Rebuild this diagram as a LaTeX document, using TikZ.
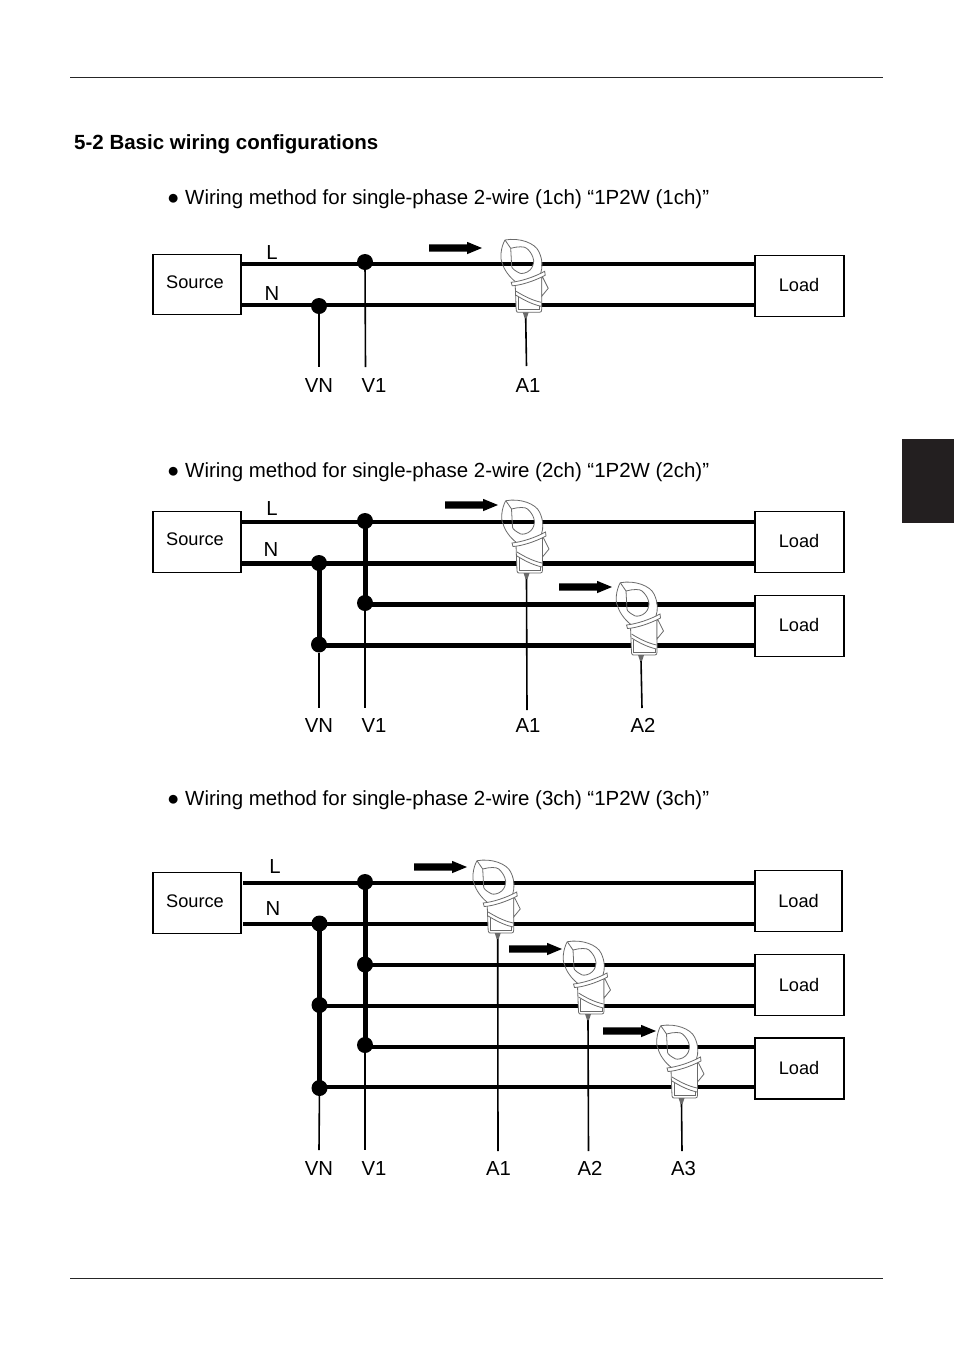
\documentclass[tikz,border=0pt]{standalone}
\usepackage{fontspec}
\setmainfont{Liberation Sans}
\definecolor{tabk}{HTML}{231F20}
\definecolor{clampc}{HTML}{6A6A6A}
\tikzset{
  wire/.style={line width=4.1pt,black},
  bus/.style={line width=5pt,black},
  thin wire/.style={line width=1.6pt,black},
  box/.style={draw=black,line width=1.4pt,fill=white,inner sep=0pt},
  dot/.style={circle,fill=black,inner sep=0pt,minimum size=16pt},
  lbl/.style={font=\fontsize{20.3}{24}\selectfont,inner sep=0pt,text=black},
  boxlbl/.style={font=\fontsize{18.2}{22}\selectfont,inner sep=0pt,text=black},
  para/.style={font=\fontsize{20.45}{24}\selectfont,inner sep=0pt,anchor=base west},
  clamp line/.style={draw=clampc,line width=0.8pt},
  rule/.style={line width=0.8pt,draw=black!85},
  flowarrow/.pic={\fill[black] (0,-3.6) -- (38,-3.6) -- (38,-6.2) -- (53,0) -- (38,6.2) -- (38,3.6) -- (0,3.6) -- cycle;},
  clampicon/.pic={
    % right half of the jaw hides the wire; the left half shows it
    \begin{scope}
      \clip (2,-82) rectangle (24,-30);
      \fill[white,even odd rule] (-20.7,-77.3) .. controls (-5.7,-80) and (9.3,-74) .. (13,-66) .. controls (17,-58) and (16,-50) .. (15,-44) -- (-10.7,-35.7) -- (-24,-50) -- cycle
        (-15,-69) .. controls (-8,-71) and (-1,-71) .. (1,-69) .. controls (7,-64) and (9,-56) .. (7.7,-54) .. controls (7,-50) and (5,-48) .. (4.3,-47.3) .. controls (1,-44) and (-4,-43.5) .. (-5.7,-44) .. controls (-10,-46) and (-14,-49) .. (-14,-50.7) -- cycle;
    \end{scope}
    \path[clamp line] (-20.7,-77.3) .. controls (-25,-70) and (-26,-58) .. (-23.3,-54) .. controls (-22,-48) and (-16,-40) .. (-10.7,-36);
    \path[clamp line] (-20.7,-77.3) .. controls (-5.7,-80) and (9.3,-74) .. (13,-66) .. controls (17,-58) and (17,-50) .. (15,-44);
    \path[clamp line] (-15,-69) .. controls (-8,-71) and (-1,-71) .. (1,-69) .. controls (7,-64) and (9,-56) .. (7.7,-54) .. controls (7,-50) and (5,-48) .. (4.3,-47.3) .. controls (1,-44) and (-4,-43.5) .. (-5.7,-44) .. controls (-10,-46) and (-14,-49) .. (-14,-50.7) -- cycle;
    \path[clamp line] (-20.7,-77.3) -- (-15,-69);
    % body
    \path[clamp line,fill=white] (-10.5,-33) -- (-9.5,-7) .. controls (-9.5,-5) and (-8,-5) .. (-7,-5) -- (14,-5) .. controls (15.5,-5) and (16,-6) .. (16,-8) -- (16,-41) -- cycle;
    % side bump
    \path[clamp line,fill=white] (16,-42) -- (22.5,-29) -- (16,-21) -- cycle;
    % collar
    \path[clamp line,fill=white] (-14.5,-35) .. controls (-5,-36) and (8,-40) .. (19,-46) -- (19.5,-42) .. controls (8,-36) and (-5,-32) .. (-13.5,-31.5) -- cycle;
    % stripes and window
    \path[clamp line] (-9.5,-26) .. controls (-3,-22) and (6,-17) .. (15.5,-15);
    \path[clamp line] (-9.5,-22) .. controls (-3,-18) and (6,-13) .. (15.5,-11);
    \path[clamp line] (-7.5,-20) -- (-7.5,-8) -- (14,-8) -- (14,-11);
    \fill[clampc] (-3,-5) -- (3,-5) -- (1,1) -- (-1,1) -- cycle;
  }
}
\begin{document}
\begin{tikzpicture}[x=1pt,y=-1pt]
\fill[white] (0,0) rectangle (954,1355);
\useasboundingbox (0,0) rectangle (954,1355);
% page furniture
\coordinate (ruleTl) at (70,77.6); \coordinate (ruleTr) at (883,77.6);
\coordinate (ruleBl) at (70,1278); \coordinate (ruleBr) at (883,1278);
\draw[rule] (ruleTl) -- (ruleTr);
\draw[rule] (ruleBl) -- (ruleBr);
\fill[tabk] (902,439) rectangle (954,523);
\node[para,font=\fontsize{20.5}{24}\selectfont\bfseries] (title) at (74,149) {5-2 Basic wiring configurations};
\node[para] (p1) at (167,204) {● Wiring method for single-phase 2-wire (1ch) “1P2W (1ch)”};
\node[para] (p2) at (167,477) {● Wiring method for single-phase 2-wire (2ch) “1P2W (2ch)”};
\node[para] (p3) at (167,805) {● Wiring method for single-phase 2-wire (3ch) “1P2W (3ch)”};

% ---------- section 1 ----------
\node[box,minimum width=88pt,minimum height=60pt] (S1) at (197,284.5) {};
\node[box,minimum width=89pt,minimum height=61pt] (Z1) at (799.5,286) {};
\node[boxlbl] at (195,282) {Source};
\node[boxlbl] at (799,285) {Load};
\coordinate (a1l) at (241,264); \coordinate (a1r) at (755,264);
\coordinate (a1n) at (241,305); \coordinate (a1m) at (755,305);
\draw[wire] (a1l) -- (a1r);
\draw[wire] (a1n) -- (a1m);
\node[dot] (d1v) at (365,262) {};
\node[dot] (d1n) at (319,306) {};
\node[lbl] (t1vn) at (319,385.5) {VN};
\node[lbl] (t1v1) at (374,385.5) {V1};
\node[lbl] (t1a1) at (528,385.5) {A1};
\coordinate (e1v) at (365.5,367); \coordinate (e1n) at (319,367);
\draw[thin wire] (d1v) -- (e1v);
\draw[thin wire] (d1n) -- (e1n);
\node[lbl] at (272,252.5) {L};
\node[lbl] at (272,293.5) {N};
\pic at (429,248) {flowarrow};
\coordinate (c1) at (525.7,317.3); \coordinate (e1a) at (526.5,366);
\draw[thin wire] (c1) -- (e1a);
\pic at (c1) {clampicon};

% ---------- section 2 ----------
\node[box,minimum width=88pt,minimum height=61pt] (S2) at (197,542) {};
\node[box,minimum width=89pt,minimum height=61pt] (Z2a) at (799.5,542) {};
\node[box,minimum width=89pt,minimum height=61pt] (Z2b) at (799.5,626) {};
\node[boxlbl] at (195,539) {Source};
\node[boxlbl] at (799,541) {Load};
\node[boxlbl] at (799,625) {Load};
\coordinate (b1) at (241,522); \coordinate (b1r) at (755,522);
\coordinate (b2) at (241,563.5); \coordinate (b2r) at (755,563.5);
\node[dot] (d2a) at (365,521) {};
\node[dot] (d2b) at (319,563) {};
\node[dot] (d2c) at (365,603) {};
\node[dot] (d2d) at (319,644.5) {};
\coordinate (b3r) at (755,604.5); \coordinate (b4r) at (755,645.5);
\draw[wire] (b1) -- (b1r);
\draw[wire] (b2) -- (b2r);
\draw[wire] (d2c.center |- b3r) -- (b3r);
\draw[wire] (d2d.center |- b4r) -- (b4r);
\draw[bus] (d2a.center) -- (d2c.center);
\draw[bus] (d2b.center) -- (d2d.center);
\coordinate (e2v) at (365,708); \coordinate (e2n) at (319,708);
\draw[thin wire] (d2c) -- (e2v);
\draw[thin wire] (d2d) -- (e2n);
\node[lbl] at (272,508.5) {L};
\node[lbl] at (271,549.5) {N};
\node[lbl] at (319,725.5) {VN};
\node[lbl] at (374,725.5) {V1};
\node[lbl] at (528,725.5) {A1};
\node[lbl] at (643,725.5) {A2};
\pic at (445,505) {flowarrow};
\pic at (559,587) {flowarrow};
\coordinate (c2a) at (526.5,578); \coordinate (e2a) at (527,710);
\coordinate (c2b) at (641,660); \coordinate (e2b) at (642,708);
\draw[thin wire] (c2a) -- (e2a);
\draw[thin wire] (c2b) -- (e2b);
\pic at (c2a) {clampicon};
\pic at (c2b) {clampicon};

% ---------- section 3 ----------
\node[box,minimum width=88pt,minimum height=61pt] (S3) at (197,903) {};
\node[box,minimum width=87pt,minimum height=61pt] (Z3a) at (798.5,901) {};
\node[box,minimum width=89pt,minimum height=61pt] (Z3b) at (799.5,985) {};
\node[box,minimum width=89pt,minimum height=61pt] (Z3c) at (799.5,1068.5) {};
\node[boxlbl] at (195,901) {Source};
\node[boxlbl] at (798.5,901) {Load};
\node[boxlbl] at (799,985) {Load};
\node[boxlbl] at (799,1068) {Load};
\node[dot] (d3a) at (365,882) {};
\node[dot] (d3b) at (319.5,923.5) {};
\node[dot] (d3c) at (365,964.5) {};
\node[dot] (d3d) at (319.5,1005) {};
\node[dot] (d3e) at (365,1045) {};
\node[dot] (d3f) at (319.5,1088) {};
\coordinate (w1) at (243,883); \coordinate (w1r) at (755,883);
\coordinate (w2) at (243,924); \coordinate (w2r) at (755,924);
\coordinate (w3r) at (755,965); \coordinate (w4r) at (755,1006);
\coordinate (w5r) at (755,1047); \coordinate (w6r) at (755,1087);
\draw[wire] (w1) -- (w1r);
\draw[wire] (w2) -- (w2r);
\draw[wire] (d3c.center |- w3r) -- (w3r);
\draw[wire] (d3d.center |- w4r) -- (w4r);
\draw[wire] (d3e.center |- w5r) -- (w5r);
\draw[wire] (d3f.center |- w6r) -- (w6r);
\draw[bus] (d3a.center) -- (d3e.center);
\draw[bus] (d3b.center) -- (d3f.center);
\coordinate (e3v) at (365,1150); \coordinate (e3n) at (319,1150);
\draw[thin wire] (d3e) -- (e3v);
\draw[thin wire] (d3f) -- (e3n);
\node[lbl] at (275,866.5) {L};
\node[lbl] at (273,908.5) {N};
\node[lbl] at (319,1168.5) {VN};
\node[lbl] at (374,1168.5) {V1};
\node[lbl] at (498.5,1168.5) {A1};
\node[lbl] at (590,1168.5) {A2};
\node[lbl] at (683.5,1168.5) {A3};
\pic at (414,867) {flowarrow};
\pic at (509,949) {flowarrow};
\pic at (603,1031) {flowarrow};
\coordinate (c3a) at (497.7,938); \coordinate (e3a) at (498,1151);
\coordinate (c3b) at (588,1019); \coordinate (e3b) at (588.5,1151);
\coordinate (c3c) at (681.5,1103); \coordinate (e3c) at (682,1151);
\draw[thin wire] (c3a) -- (e3a);
\draw[thin wire] (c3b) -- (e3b);
\draw[thin wire] (c3c) -- (e3c);
\pic at (c3a) {clampicon};
\pic at (c3b) {clampicon};
\pic at (c3c) {clampicon};
\end{tikzpicture}
\end{document}
